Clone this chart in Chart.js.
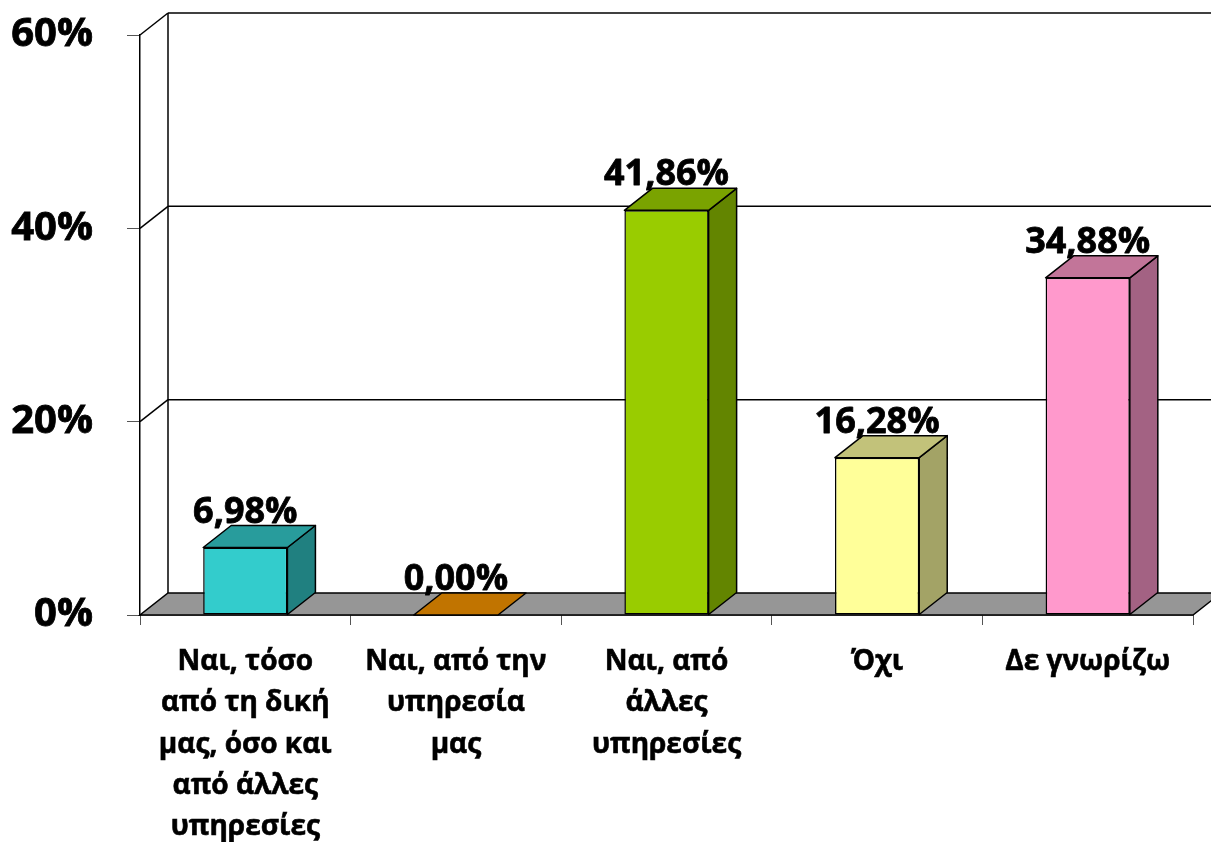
<!DOCTYPE html>
<html>
<head>
<meta charset="utf-8">
<script src="https://cdn.jsdelivr.net/npm/chart.js@4.4.1/dist/chart.umd.min.js"></script>
<style>
  html, body { margin: 0; padding: 0; background: #fff; }
  #wrap { width: 1211px; height: 842px; position: relative; }
</style>
</head>
<body>
<div id="wrap"><canvas id="grafico"></canvas></div>
<script>
// Κατηγορίες (άξονας Χ)
const categories = [
    ['Ναι, τόσο', 'από τη δική', 'μας, όσο και', 'από άλλες', 'υπηρεσίες'],
    ['Ναι, από την', 'υπηρεσία', 'μας'],
    ['Ναι, από', 'άλλες', 'υπηρεσίες'],
    ['Όχι'],
    ['Δε γνωρίζω']
];

// Ποσοστά (%)
const values = [6.98, 0.00, 41.86, 16.28, 34.88];

// Ετικέτες άξονα Υ
const yTickLabels = ['0%', '20%', '40%', '60%'];

// Χρώματα: μπροστινή, πλαϊνή και πάνω πλευρά
const frontColors = ['#33CCCC', '#CC7A00', '#99CC00', '#FFFF99', '#FF99CC'];
const sideColors  = ['#208080', '#805000', '#638500', '#A3A366', '#A36283'];
const topColors   = ['#289C9C', '#C17400', '#7AA300', '#C2C27A', '#C27599'];

const DX = 28, DY = 22; // βάθος 3Δ
const FONT = '"Open Sans"';

const depth3d = {
    id: 'depth3d',
    beforeDatasetsDraw(chart) {
        const { ctx, chartArea: a, scales: { y } } = chart;
        ctx.save();
        ctx.strokeStyle = '#000';
        ctx.lineWidth = 1.5;
        // δάπεδο
        ctx.beginPath();
        ctx.moveTo(a.left, a.bottom);
        ctx.lineTo(a.right, a.bottom);
        ctx.lineTo(a.right + DX, a.bottom - DY);
        ctx.lineTo(a.left + DX, a.bottom - DY);
        ctx.closePath();
        ctx.fillStyle = '#969696';
        ctx.fill();
        ctx.stroke();
        // γραμμές πλέγματος στον πίσω τοίχο και στον πλαϊνό
        y.ticks.forEach(t => {
            const py = y.getPixelForValue(t.value);
            if (t.value > 0) {
                ctx.beginPath();
                ctx.moveTo(a.left + DX, py - DY);
                ctx.lineTo(chart.width + 5, py - DY);
                ctx.stroke();
                ctx.beginPath();
                ctx.moveTo(a.left, py);
                ctx.lineTo(a.left + DX, py - DY);
                ctx.stroke();
            }
        });
        // αριστερή ακμή πίσω τοίχου
        ctx.beginPath();
        ctx.moveTo(a.left + DX, a.top - DY);
        ctx.lineTo(a.left + DX, a.bottom - DY);
        ctx.stroke();
        ctx.restore();
    },
    afterDatasetsDraw(chart) {
        const { ctx } = chart;
        const meta = chart.getDatasetMeta(0);
        ctx.save();
        ctx.strokeStyle = '#000';
        ctx.lineWidth = 1.5;
        ctx.lineJoin = 'round';
        meta.data.forEach((bar, i) => {
            const { x, y, base, width } = bar.getProps(['x', 'y', 'base', 'width'], true);
            const l = x - width / 2, r = x + width / 2;
            // πλαϊνή πλευρά
            if (base - y > 0.5) {
                ctx.beginPath();
                ctx.moveTo(r, y);
                ctx.lineTo(r + DX, y - DY);
                ctx.lineTo(r + DX, base - DY);
                ctx.lineTo(r, base);
                ctx.closePath();
                ctx.fillStyle = sideColors[i];
                ctx.fill();
                ctx.stroke();
            }
            // πάνω πλευρά
            ctx.beginPath();
            ctx.moveTo(l, y);
            ctx.lineTo(l + DX, y - DY);
            ctx.lineTo(r + DX, y - DY);
            ctx.lineTo(r, y);
            ctx.closePath();
            ctx.fillStyle = topColors[i];
            ctx.fill();
            ctx.stroke();
        });
        // ετικέτες τιμών
        ctx.fillStyle = '#000';
        ctx.strokeStyle = '#000';
        ctx.lineWidth = 0.8;
        ctx.font = 'bold 36px ' + FONT;
        ctx.textAlign = 'center';
        ctx.textBaseline = 'alphabetic';
        meta.data.forEach((bar, i) => {
            const { x, y } = bar.getProps(['x', 'y'], true);
            const txt = values[i].toFixed(2).replace('.', ',') + '%';
            ctx.fillText(txt, x, y - DY - 3);
            ctx.strokeText(txt, x, y - DY - 3);
        });
        ctx.restore();
    }
};

const ctx = document.getElementById('grafico').getContext('2d');

const myChart = new Chart(ctx, {
    type: 'bar',
    data: {
        labels: categories,
        datasets: [{
            data: values,
            backgroundColor: frontColors,
            borderColor: '#000',
            borderWidth: 1.5,
            borderSkipped: false,
            categoryPercentage: 1.0,
            barPercentage: 0.4
        }]
    },
    options: {
        responsive: true,
        maintainAspectRatio: false,
        animation: false,
        layout: { padding: { top: 35, right: 18, left: 0, bottom: 0 } },
        plugins: {
            legend: { display: false },
            tooltip: { enabled: false }
        },
        scales: {
            x: {
                type: 'category',
                afterFit: (scale) => {
                    scale.height = 227;
                    scale.paddingLeft = 0;
                    scale.paddingRight = 0;
                },
                grid: {
                    offset: true,
                    drawOnChartArea: false,
                    drawTicks: true,
                    tickLength: 10,
                    color: '#555'
                },
                border: { display: true, color: '#000', width: 1.5 },
                ticks: {
                    color: '#000',
                    textStrokeColor: '#000',
                    textStrokeWidth: 0.6,
                    padding: 16,
                    maxRotation: 0,
                    autoSkip: false,
                    font: { family: FONT, weight: 'bold', size: 28, lineHeight: 1.48 }
                }
            },
            y: {
                min: 0,
                max: 60,
                afterFit: (scale) => {
                    scale.width = 140;
                    scale.paddingTop = 0;
                    scale.paddingBottom = 0;
                },
                grid: {
                    drawOnChartArea: false,
                    drawTicks: true,
                    tickLength: 13,
                    color: '#555'
                },
                border: { display: true, color: '#000', width: 1.5 },
                ticks: {
                    stepSize: 20,
                    color: '#000',
                    textStrokeColor: '#000',
                    textStrokeWidth: 0.8,
                    padding: 34,
                    font: { family: FONT, weight: 'bold', size: 40 },
                    callback: (v, idx) => yTickLabels[idx]
                }
            }
        }
    },
    plugins: [depth3d]
});
</script>
</body>
</html>
